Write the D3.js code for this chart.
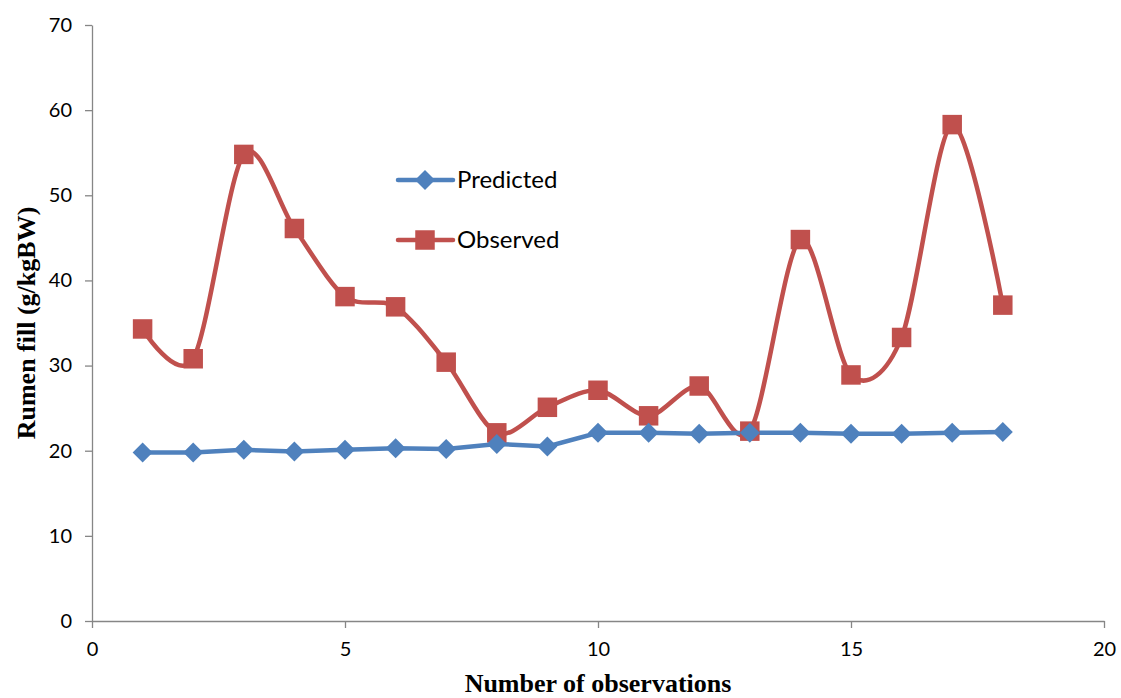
<!doctype html>
<html lang="en">
<head>
  <meta charset="utf-8">
  <title>Rumen fill - predicted vs observed</title>
  <script src="https://cdnjs.cloudflare.com/ajax/libs/d3/7.8.5/d3.min.js"></script>
  <style>
    body { margin: 0; background: #fff; }
    .tick text { font-family: Lato, "Open Sans", sans-serif; font-size: 20px; fill: #000; }
    .axis path, .axis line { stroke: #868686; stroke-width: 1.3; }
    .title { font-family: "Liberation Serif", "Times New Roman", serif; font-weight: bold; font-size: 26px; }
    .legend text { font-family: Lato, "Open Sans", sans-serif; font-size: 24px; }
  </style>
</head>
<body>
  <svg width="1121" height="698" id="svg"></svg>

<script>
  var observations = [1, 2, 3, 4, 5, 6, 7, 8, 9, 10, 11, 12, 13, 14, 15, 16, 17, 18];
  var predicted = [19.8, 19.8, 20.1, 19.9, 20.1, 20.3, 20.2, 20.8, 20.5, 22.1, 22.1, 22.0, 22.1, 22.1, 22.0, 22.0, 22.1, 22.2];
  var observed = [34.3, 30.8, 54.8, 46.1, 38.1, 36.9, 30.4, 22.1, 25.1, 27.1, 24.1, 27.6, 22.3, 44.8, 28.9, 33.3, 58.3, 37.1];
  var xTicks = [0, 5, 10, 15, 20];
  var yTicks = [0, 10, 20, 30, 40, 50, 60, 70];
  var seriesNames = ['Predicted', 'Observed'];

  var blue = '#4f81bd', red = '#c0504d';

  var svg = d3.select('#svg');

  var x = d3.scaleLinear().domain([0, 20]).range([92, 1104]);
  var y = d3.scaleLinear().domain([0, 70]).range([621, 25]);

  // axes
  svg.append('g')
    .attr('class', 'axis')
    .attr('transform', 'translate(0,' + y(0) + ')')
    .call(d3.axisBottom(x).tickValues(xTicks).tickSize(7).tickSizeOuter(0).tickPadding(10))
    .selectAll('.tick text').attr('dy', '0.9em');

  svg.append('g')
    .attr('class', 'axis')
    .attr('transform', 'translate(' + x(0) + ',0)')
    .call(d3.axisLeft(y).tickValues(yTicks).tickSize(7).tickSizeOuter(0).tickPadding(13));

  svg.append('text')
    .attr('class', 'title')
    .attr('text-anchor', 'middle')
    .attr('transform', 'translate(35,' + y(35) + ') rotate(-90)')
    .text('Rumen fill (g/kgBW)');

  svg.append('text')
    .attr('class', 'title')
    .attr('text-anchor', 'middle')
    .attr('x', x(10))
    .attr('y', 692)
    .text('Number of observations');

  // lines
  var predLine = d3.line()
    .x(function(d, i) { return x(observations[i]); })
    .y(function(d) { return y(d); });

  var obsLine = d3.line()
    .x(function(d, i) { return x(observations[i]); })
    .y(function(d) { return y(d); })
    .curve(d3.curveCardinal.tension(0.1));

  svg.append('path')
    .datum(observed)
    .attr('d', obsLine)
    .attr('fill', 'none')
    .attr('stroke', red)
    .attr('stroke-width', 4.5);

  svg.append('path')
    .datum(predicted)
    .attr('d', predLine)
    .attr('fill', 'none')
    .attr('stroke', blue)
    .attr('stroke-width', 4.5);

  var square = d3.symbol().type(d3.symbolSquare).size(380);
  var diamond = 'M0,-10L10,0L0,10L-10,0Z';

  svg.selectAll('.obs')
    .data(observed)
    .enter()
    .append('path')
    .attr('class', 'obs')
    .attr('d', square)
    .attr('transform', function(d, i) { return 'translate(' + x(observations[i]) + ',' + y(d) + ')'; })
    .attr('fill', red);

  svg.selectAll('.pred')
    .data(predicted)
    .enter()
    .append('path')
    .attr('class', 'pred')
    .attr('d', diamond)
    .attr('transform', function(d, i) { return 'translate(' + x(observations[i]) + ',' + y(d) + ')'; })
    .attr('fill', blue);

  // legend
  var legend = svg.append('g').attr('class', 'legend');
  var colors = [blue, red];
  var shapes = [diamond, square];
  seriesNames.forEach(function(name, i) {
    var ly = 180 + i * 60;
    legend.append('line')
      .attr('x1', 398).attr('x2', 453)
      .attr('y1', ly).attr('y2', ly)
      .attr('stroke', colors[i])
      .attr('stroke-width', 4.5)
      .attr('stroke-linecap', 'round');
    legend.append('path')
      .attr('d', shapes[i])
      .attr('transform', 'translate(425,' + ly + ')')
      .attr('fill', colors[i]);
    legend.append('text')
      .attr('x', 457)
      .attr('y', ly)
      .attr('dy', '0.35em')
      .text(name);
  });
</script>
</body>
</html>
